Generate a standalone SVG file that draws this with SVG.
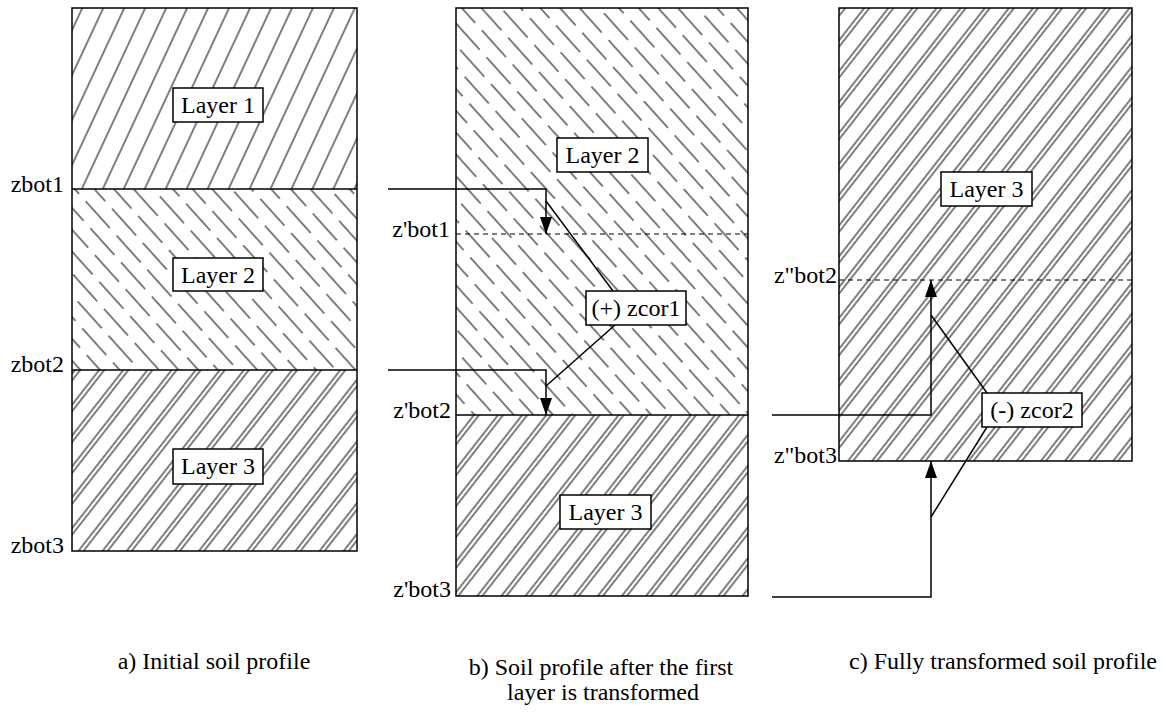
<svg xmlns="http://www.w3.org/2000/svg" width="1166" height="714" viewBox="0 0 1166 714">
<style>
text{font-family:"Liberation Serif","Times New Roman",serif;font-size:24px;fill:#000}
.panel{fill:none;stroke:#000;stroke-width:1.5}
.bound{stroke:#000;stroke-width:1.5}
.dash{stroke:#000;stroke-width:1;stroke-dasharray:5 4}
.box{fill:#fff;stroke:#000;stroke-width:1.5}
.conn{fill:none;stroke:#000;stroke-width:1.5}
.h{stroke:#000;stroke-width:1}
.c{text-anchor:middle}
.r{text-anchor:end}
</style>
<defs>
<pattern id="p1" patternUnits="userSpaceOnUse" width="19" height="19" patternTransform="rotate(25)"><line class="h" x1="2" y1="-1" x2="2" y2="20"/></pattern>
<pattern id="p2" patternUnits="userSpaceOnUse" width="29.2" height="46" patternTransform="rotate(-42)"><line class="h" x1="2" y1="0" x2="2" y2="36"/><line class="h" x1="16.6" y1="23" x2="16.6" y2="46"/><line class="h" x1="16.6" y1="0" x2="16.6" y2="13"/></pattern>
<pattern id="p3" patternUnits="userSpaceOnUse" width="19" height="19" patternTransform="rotate(38)"><line class="h" x1="2" y1="-1" x2="2" y2="20"/><line class="h" x1="6" y1="-1" x2="6" y2="20"/></pattern>
<marker id="ah" viewBox="0 0 17 12" refX="17" refY="6" markerWidth="17" markerHeight="12" markerUnits="userSpaceOnUse" orient="auto"><path d="M0,0L17,6L0,12z" fill="#000"/></marker>
</defs>

<g id="panel-a">
<rect x="72" y="8" width="285" height="181" fill="url(#p1)"/>
<rect x="72" y="189" width="285" height="181" fill="url(#p2)"/>
<rect x="72" y="370" width="285" height="181" fill="url(#p3)"/>
<line class="bound" x1="72" y1="189" x2="357" y2="189"/>
<line class="bound" x1="72" y1="370" x2="357" y2="370"/>
<rect class="panel" x="72" y="8" width="285" height="543"/>
<text class="r" x="64" y="192">zbot1</text>
<text class="r" x="64" y="372">zbot2</text>
<text class="r" x="64" y="553">zbot3</text>
</g>

<g id="panel-b">
<rect x="456" y="8" width="292" height="407" fill="url(#p2)"/>
<rect x="456" y="415" width="292" height="181" fill="url(#p3)"/>
<line class="dash" x1="456" y1="234" x2="748" y2="234"/>
<line class="bound" x1="456" y1="415" x2="748" y2="415"/>
<rect class="panel" x="456" y="8" width="292" height="588"/>
<text class="r" x="450" y="237">z'bot1</text>
<text class="r" x="451" y="418">z'bot2</text>
<text class="r" x="451" y="597">z'bot3</text>
</g>

<g id="panel-c">
<rect x="839" y="8" width="293" height="453" fill="url(#p3)"/>
<line class="dash" x1="839" y1="280" x2="1132" y2="280"/>
<rect class="panel" x="839" y="8" width="293" height="453"/>
<text class="r" x="837" y="283">z"bot2</text>
<text class="r" x="837" y="463">z"bot3</text>
</g>

<g id="connectors">
<polyline class="conn" points="388,189 546,189 546,234" marker-end="url(#ah)"/>
<polyline class="conn" points="388,370 546,370 546,415" marker-end="url(#ah)"/>
<line class="conn" x1="546" y1="201" x2="613" y2="291"/>
<line class="conn" x1="546" y1="386" x2="615" y2="325"/>
<polyline class="conn" points="772,415 931,415 931,280" marker-end="url(#ah)"/>
<polyline class="conn" points="772,597 931,597 931,461" marker-end="url(#ah)"/>
<line class="conn" x1="931" y1="315" x2="987" y2="393"/>
<line class="conn" x1="931" y1="517" x2="987" y2="427"/>
</g>

<g id="label-a-layer1"><rect class="box" x="173" y="88" width="90" height="34"/><text class="c" x="218" y="113">Layer 1</text></g>
<g id="label-a-layer2"><rect class="box" x="173" y="258" width="90" height="33"/><text class="c" x="218" y="283">Layer 2</text></g>
<g id="label-a-layer3"><rect class="box" x="173" y="449" width="90" height="35"/><text class="c" x="218" y="474">Layer 3</text></g>
<g id="label-b-layer2"><rect class="box" x="557" y="138" width="91" height="34"/><text class="c" x="602.5" y="163">Layer 2</text></g>
<g id="label-b-zcor1"><rect class="box" x="586" y="291" width="100" height="34"/><text class="c" x="636" y="316">(+) zcor1</text></g>
<g id="label-b-layer3"><rect class="box" x="560" y="495" width="91" height="34"/><text class="c" x="605.5" y="520">Layer 3</text></g>
<g id="label-c-layer3"><rect class="box" x="941" y="172" width="91" height="34"/><text class="c" x="986.5" y="197">Layer 3</text></g>
<g id="label-c-zcor2"><rect class="box" x="982" y="393" width="100" height="34"/><text class="c" x="1032" y="418">(-) zcor2</text></g>

<g id="captions">
<text class="c" x="214" y="669">a) Initial soil profile</text>
<text class="c" x="601" y="675">b) Soil profile after the first</text>
<text class="c" x="603" y="700">layer is transformed</text>
<text class="c" x="1003" y="669">c) Fully transformed soil profile</text>
</g>
</svg>
